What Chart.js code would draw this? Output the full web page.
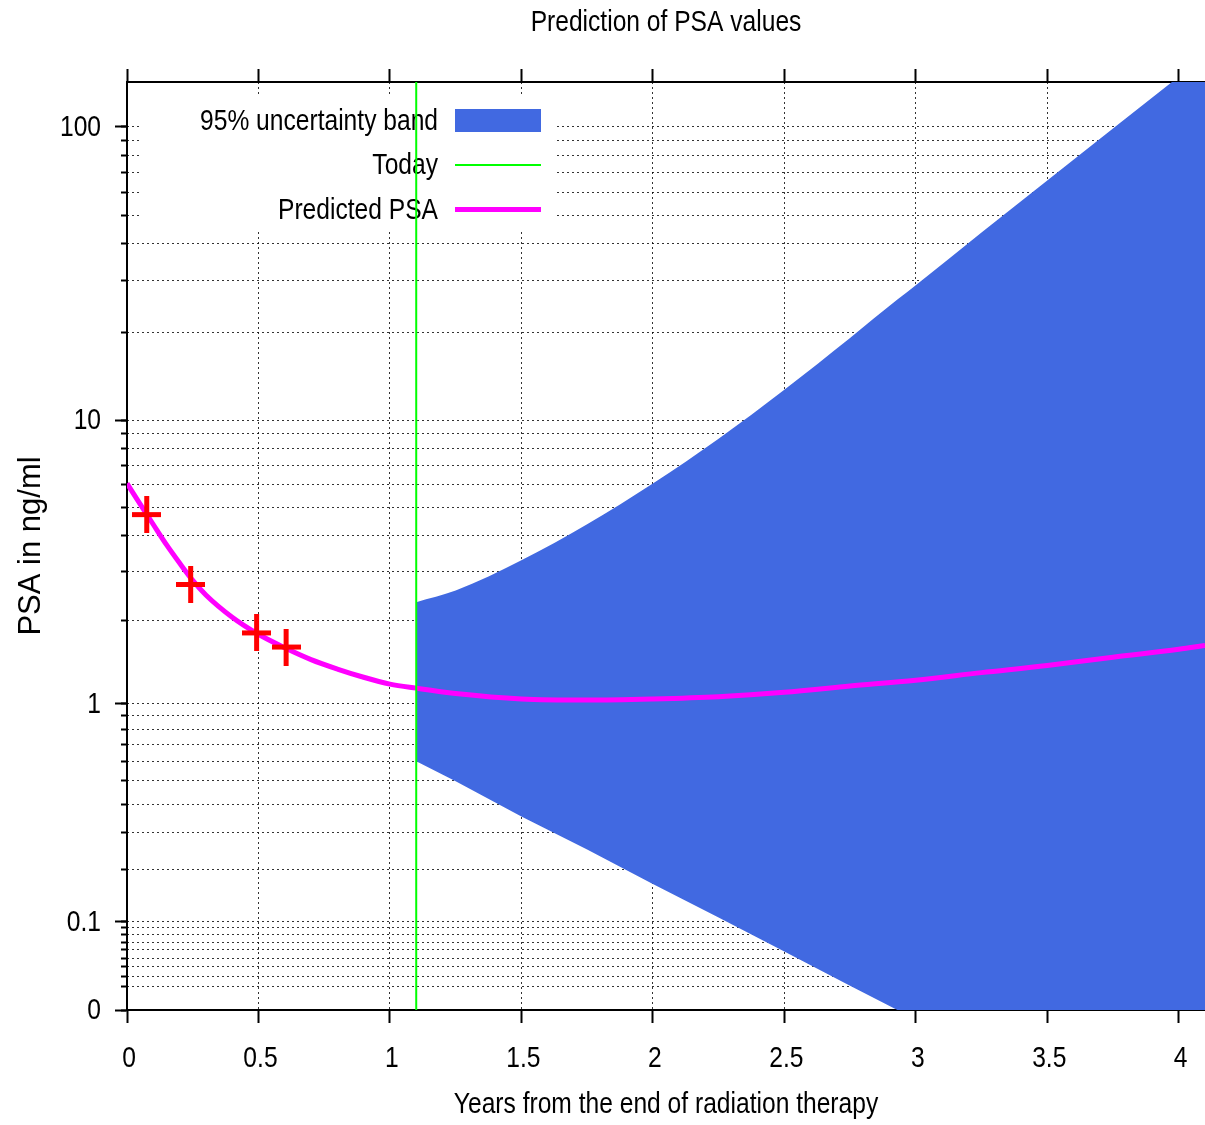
<!DOCTYPE html>
<html>
<head>
<meta charset="utf-8">
<script src="https://cdn.jsdelivr.net/npm/chart.js@4.4.1/dist/chart.umd.min.js"></script>
<style>
  html, body { margin: 0; padding: 0; background: #fff; }
  canvas { display: block; }
</style>
</head>
<body>
<canvas id="psaChart" width="1205" height="1125"></canvas>
<script>
// curve values
const psaYears     = [0, 0.05, 0.1, 0.15, 0.2, 0.25, 0.3, 0.4, 0.5, 0.6, 0.7, 0.8, 0.9, 1.0, 1.1, 1.25, 1.5, 1.75, 2.0, 2.25, 2.5, 2.75, 3.0, 3.25, 3.5, 3.75, 4.0, 4.1];
const psaPredicted = [6.05, 5.13, 4.36, 3.71, 3.20, 2.78, 2.47, 2.06, 1.79, 1.60, 1.45, 1.34, 1.25, 1.18, 1.14, 1.09, 1.04, 1.03, 1.04, 1.06, 1.10, 1.16, 1.22, 1.30, 1.38, 1.48, 1.58, 1.63];

const measuredYears = [0.075, 0.242, 0.493, 0.605];
const measuredPsa   = [4.72, 2.69, 1.81, 1.61];

const bandYears = [1.1, 1.25, 1.5, 1.75, 2.0, 2.25, 2.5, 2.75, 2.93, 3.0, 3.25, 3.5, 3.75, 4.0, 4.1];
const bandUpper = [2.33, 2.56, 3.27, 4.37, 6.05, 8.63, 12.7, 19.1, 25.8, 28.9, 43.7, 65.7, 98.7, 148, 174];
const bandLower = [0.600, 0.498, 0.354, 0.251, 0.168, 0.106, 0.058, 0.021, 0, 0, 0, 0, 0, 0, 0];

const todayYear = 1.1;

const xTickValues = [0, 0.5, 1, 1.5, 2, 2.5, 3, 3.5, 4];
const yMajorTicks = [0, 0.1, 1, 10, 100];
const yMinorTicks = [0.02, 0.03, 0.04, 0.05, 0.06, 0.07, 0.08, 0.09,
                     0.2, 0.3, 0.4, 0.5, 0.6, 0.7, 0.8, 0.9,
                     2, 3, 4, 5, 6, 7, 8, 9,
                     20, 30, 40, 50, 60, 70, 80, 90];
const xMin = 0, xMax = 4.1;
const yMin = 0, yMax = 142;

const SANS = "'Liberation Sans', Arial, sans-serif";
const GRID = 'rgba(0,0,0,0.8)';
const DOTS = [2, 3];
const NARROW_RATIO = 0.82;   // the source text is squeezed sideways

// gnuplot-like axis: log10(y + 0.1), so 0 still has a place at the bottom
const SHIFT = 0.1;
const tf = v => Math.log10(Math.max(v, 0) + SHIFT);

class ShiftedLogScale extends Chart.LinearScale {
  static id = 'shiftedLog';
  static defaults = {};

  determineDataLimits() {
    this.min = this.options.min;
    this.max = this.options.max;
  }
  buildTicks() {
    return [];
  }
  configure() {
    super.configure();
    this._tStart = tf(this.min);
    this._tRange = tf(this.max) - tf(this.min);
  }
  getPixelForValue(v) {
    if (v === null || v === undefined || isNaN(v)) return NaN;
    return this.getPixelForDecimal((tf(v) - this._tStart) / this._tRange);
  }
  getValueForPixel(p) {
    return Math.pow(10, this._tStart + this.getDecimalForPixel(p) * this._tRange) - SHIFT;
  }
}
Chart.register(ShiftedLogScale);

// horizontal text gets drawn narrower; rotated text (the y title) is left alone
function narrowCanvasText(c) {
  const fill = c.fillText.bind(c);
  c.fillText = function (text, x, y, maxWidth) {
    const m = this.getTransform();
    if (m.b !== 0 || m.c !== 0) return fill(text, x, y, maxWidth);
    const w = this.measureText(text).width * NARROW_RATIO;
    return fill(text, x, y, maxWidth === undefined ? w : Math.min(maxWidth, w));
  };
}

function crossMarker(w, h, lw, color) {
  const c = document.createElement('canvas');
  c.width = w;
  c.height = h;
  const g = c.getContext('2d');
  g.strokeStyle = color;
  g.lineWidth = lw;
  g.beginPath();
  g.moveTo(0, h / 2); g.lineTo(w, h / 2);
  g.moveTo(w / 2, 0); g.lineTo(w / 2, h);
  g.stroke();
  return c;
}

const toPoints = (xs, ys) => xs.map((x, i) => ({ x, y: ys[i] }));
const asTicks = vals => vals.map(v => ({ value: v }));
const noPadding = s => { s.paddingLeft = 0; s.paddingRight = 0; s.paddingTop = 0; s.paddingBottom = 0; };

// opaque key box in the upper left, text right-aligned before the sample
const key = { left: 141, top: 97, right: 555, bottom: 231, textRight: 438, sampleLeft: 455, sampleRight: 541, firstRow: 120.5, rowGap: 44.5 };

const keyPlugin = {
  id: 'gnuplotKey',
  beforeDatasetsDraw(chart) {
    const ctx = chart.ctx;
    const items = chart.data.datasets.filter(d => d.label);
    ctx.save();
    ctx.fillStyle = '#fff';
    ctx.fillRect(key.left, key.top, key.right - key.left, key.bottom - key.top);
    ctx.font = `30px ${SANS}`;
    ctx.textAlign = 'right';
    ctx.textBaseline = 'middle';
    items.forEach((d, i) => {
      const y = key.firstRow + i * key.rowGap;
      ctx.fillStyle = '#000';
      ctx.fillText(d.label, key.textRight, y + 1);
      if (d.fill) {
        ctx.fillStyle = d.backgroundColor;
        ctx.fillRect(key.sampleLeft, y - 11.5, key.sampleRight - key.sampleLeft, 23);
      } else {
        ctx.strokeStyle = d.borderColor;
        ctx.lineWidth = d.borderWidth;
        ctx.beginPath();
        ctx.moveTo(key.sampleLeft, y);
        ctx.lineTo(key.sampleRight, y);
        ctx.stroke();
      }
    });
    ctx.restore();
  }
};

const ctx = document.getElementById('psaChart').getContext('2d');
narrowCanvasText(ctx);

new Chart(ctx, {
  type: 'line',
  data: {
    datasets: [
      {
        label: '95% uncertainty band',
        data: toPoints(bandYears, bandUpper),
        backgroundColor: '#4169e1',
        borderWidth: 0,
        pointRadius: 0,
        fill: '+1',
        cubicInterpolationMode: 'monotone',
        order: 4,
      },
      {
        label: '',
        data: toPoints(bandYears, bandLower),
        borderWidth: 0,
        pointRadius: 0,
        fill: false,
        tension: 0,
        order: 5,
      },
      {
        label: 'Today',
        data: [{ x: todayYear, y: yMin }, { x: todayYear, y: yMax }],
        borderColor: '#00ff00',
        borderWidth: 2,
        pointRadius: 0,
        fill: false,
        order: 1,
      },
      {
        label: 'Predicted PSA',
        data: toPoints(psaYears, psaPredicted),
        borderColor: '#ff00ff',
        borderWidth: 5,
        pointRadius: 0,
        fill: false,
        cubicInterpolationMode: 'monotone',
        order: 2,
      },
      {
        label: '',
        data: toPoints(measuredYears, measuredPsa),
        showLine: false,
        pointStyle: crossMarker(29, 37, 5, '#ff0000'),
        pointRadius: 5,
        order: 0,
      },
    ],
  },
  options: {
    responsive: false,
    maintainAspectRatio: false,
    animation: false,
    devicePixelRatio: 1,
    events: [],
    layout: { padding: 0, autoPadding: false },
    plugins: {
      legend: { display: false },
      tooltip: { enabled: false },
      title: {
        display: true,
        text: 'Prediction of PSA values',
        fullSize: false,
        color: '#000',
        font: { family: SANS, size: 30, weight: 'normal' },
        padding: { top: 5, bottom: 28 },
      },
    },
    scales: {
      x: {
        type: 'linear',
        position: 'bottom',
        min: xMin,
        max: xMax,
        afterBuildTicks: s => { s.ticks = asTicks(xTickValues); },
        afterFit: s => { s.height = 115; noPadding(s); },
        ticks: {
          callback: v => String(v),
          color: '#000',
          font: { family: SANS, size: 30 },
          padding: 18,
          labelOffset: 2,
          maxRotation: 0,
          autoSkip: false,
        },
        grid: { color: GRID, lineWidth: 1, tickLength: 13, tickColor: '#000', tickWidth: 2 },
        border: { color: '#000', width: 2, dash: DOTS },
        title: {
          display: true,
          text: 'Years from the end of radiation therapy',
          color: '#000',
          font: { family: SANS, size: 30 },
          padding: { top: 0, bottom: 2 },
        },
      },
      x2: {
        type: 'linear',
        position: 'top',
        min: xMin,
        max: xMax,
        afterBuildTicks: s => { s.ticks = asTicks(xTickValues); },
        afterFit: s => { s.height = 13; noPadding(s); },
        ticks: { display: false },
        grid: { drawOnChartArea: false, tickLength: 13, tickColor: '#000', tickWidth: 2 },
        border: { color: '#000', width: 2 },
      },
      y: {
        type: 'shiftedLog',
        position: 'left',
        weight: 1,
        min: yMin,
        max: yMax,
        afterBuildTicks: s => { s.ticks = asTicks(yMajorTicks); },
        afterFit: s => { s.width = 127; noPadding(s); },
        ticks: {
          callback: v => String(v),
          color: '#000',
          font: { family: SANS, size: 30 },
          padding: 14,
          labelOffset: 1,
          autoSkip: false,
        },
        grid: { drawOnChartArea: false, tickLength: 12, tickColor: '#000', tickWidth: 2 },
        border: { color: '#000', width: 2 },
        title: {
          display: true,
          text: 'PSA in ng/ml',
          color: '#000',
          font: { family: SANS, size: 31 },
          padding: { top: 13, bottom: 0 },
        },
      },
      yMinor: {
        type: 'shiftedLog',
        position: 'left',
        weight: 0,
        min: yMin,
        max: yMax,
        afterBuildTicks: s => { s.ticks = asTicks([...yMajorTicks, ...yMinorTicks].sort((a, b) => a - b)); },
        afterFit: s => { s.width = 0; noPadding(s); },
        ticks: { display: false, autoSkip: false },
        grid: { color: GRID, lineWidth: 1, tickLength: 6, tickColor: '#000', tickWidth: 2 },
        border: { display: false, dash: DOTS },
      },
    },
  },
  plugins: [keyPlugin],
});
</script>
</body>
</html>
